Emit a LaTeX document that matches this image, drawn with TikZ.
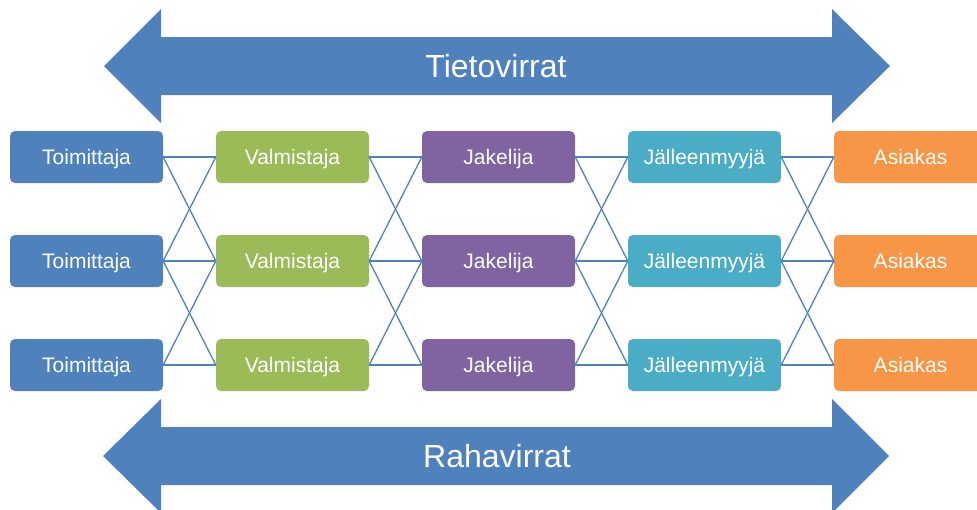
\documentclass[tikz,border=0pt]{standalone}
\usepackage{fontspec}
\setmainfont{Liberation Sans}
\definecolor{flowblue}{HTML}{4F81BD}
\definecolor{cgreen}{HTML}{9BBB59}
\definecolor{cpurple}{HTML}{8064A2}
\definecolor{cteal}{HTML}{4BACC6}
\definecolor{corange}{HTML}{F79646}
\tikzset{
  actor/.style={rounded corners=5pt, minimum width=153pt, minimum height=52pt,
    inner sep=0pt, text height=15pt, text depth=0pt, text=white,
    font=\fontsize{21}{25}\selectfont},
  link/.style={draw=flowblue, line width=1.3pt},
  flowlabel/.style={inner sep=0pt, text height=23pt, text depth=0pt, text=white,
    font=\fontsize{32}{38}\selectfont}
}
\begin{document}
\begin{tikzpicture}[x=1pt, y=-1pt]
  \useasboundingbox (0,0) rectangle (977,509);
  \clip (0,0) rectangle (977,509);

  % double-headed flow arrows
  \fill[flowblue] (104,66) -- (161,9) -- (161,37) -- (832,37) -- (832,9) -- (890,66)
    -- (832,123) -- (832,95) -- (161,95) -- (161,123) -- cycle;
  \node[flowlabel] (info) at (496,66) {Tietovirrat};

  \fill[flowblue] (103,456) -- (161,399) -- (161,427) -- (832,427) -- (832,399) -- (889,456)
    -- (832,513) -- (832,485) -- (161,485) -- (161,513) -- cycle;
  \node[flowlabel] (money) at (497,456) {Rahavirrat};

  % supply chain actors, three rows
  \foreach \r/\y in {1/157, 2/261, 3/365} {
    \node[actor, fill=flowblue] (s\r) at (86.5,\y) {Toimittaja};
    \node[actor, fill=cgreen]   (v\r) at (292.5,\y) {Valmistaja};
    \node[actor, fill=cpurple]  (j\r) at (498.5,\y) {Jakelija};
    \node[actor, fill=cteal]    (r\r) at (704.5,\y) {Jälleenmyyjä};
    \node[actor, fill=corange]  (a\r) at (910.5,\y) {Asiakas};
  }

  % links between neighbouring stages
  \foreach \p/\q in {s/v, v/j, j/r, r/a} {
    \foreach \i in {1,2,3} {
      \draw[link] (\p\i.east) -- (\q\i.west);
    }
    \draw[link] (\p1.east) -- (\q2.west);
    \draw[link] (\p2.east) -- (\q1.west);
    \draw[link] (\p2.east) -- (\q3.west);
    \draw[link] (\p3.east) -- (\q2.west);
  }
\end{tikzpicture}
\end{document}
